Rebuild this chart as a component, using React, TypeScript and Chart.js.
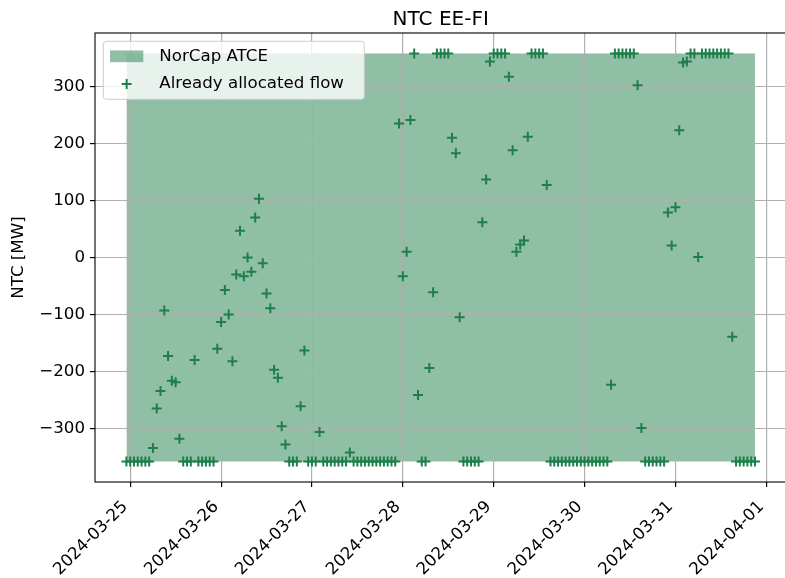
import { useEffect, useRef } from 'react';
import { Chart, registerables } from 'chart.js';

Chart.register(...registerables);

// ---------- data ----------
const TITLE = 'NTC EE-FI';
const Y_LABEL = 'NTC [MW]';
const SERIES_LABELS = ['NorCap ATCE', 'Already allocated flow'];
const FIRST_HOUR = '2024-03-24T23:00:00Z';
const DAY_TICKS = ['2024-03-25', '2024-03-26', '2024-03-27', '2024-03-28', '2024-03-29', '2024-03-30', '2024-03-31', '2024-04-01'];
const Y_TICKS = [-300, -200, -100, 0, 100, 200, 300];
const ATCE_UP = 358;
const ATCE_DOWN = -358;
// hourly already allocated flow (MW), starting at FIRST_HOUR
const FLOW = [
  -358, -358, -358, -358, -358, -358, -358,
  -334, -265, -234, -93, -173, -216, -219, -318,
  -358, -358, -358,
  -180,
  -358, -358, -358, -358, -358,
  -160, -113, -57, -100, -182, -30, 47, -33, 0, -25, 70, 103, -10, -63, -89, -197, -211, -296, -328,
  -358, -358, -358,
  -261, -163,
  -358, -358, -358,
  -306,
  -358, -358, -358, -358, -358, -358, -358,
  -342,
  -358, -358, -358, -358, -358, -358, -358, -358, -358, -358, -358, -358,
  235, -33, 10, 241, 358, -241,
  -358, -358,
  -194, -61,
  358, 358, 358, 358,
  210, 183, -105,
  -358, -358, -358, -358, -358,
  62, 137, 344,
  358, 358, 358, 358,
  317, 188, 10, 23, 30, 212,
  358, 358, 358, 358,
  127,
  -358, -358, -358, -358, -358, -358, -358, -358, -358, -358, -358, -358, -358, -358, -358, -358,
  -223,
  358, 358, 358, 358, 358, 358,
  302, -299,
  -358, -358, -358, -358, -358, -358,
  79, 21, 88, 223, 342, 344,
  358, 358,
  1,
  358, 358, 358, 358, 358, 358, 358, 358,
  -139,
  -358, -358, -358, -358, -358, -358,
];

// ---------- style ----------
const FONT = "'DejaVu Sans', sans-serif";
const FS = 16.67;
const MARKER = 'rgb(31,127,75)';
const FILL = 'rgba(31,127,75,0.5)';
const GRID = '#b0b0b0';

const fmtY = (v: number) => (v < 0 ? '\u2212' + Math.abs(v) : String(v));

export default function App() {
  const ref = useRef<HTMLCanvasElement>(null);

  useEffect(() => {
    const canvas = ref.current;
    if (!canvas) return;
    const HOUR = 3600000;
    const t0 = Date.parse(FIRST_HOUR);
    const pts = FLOW.map((v, i) => ({ x: t0 + i * HOUR, y: v }));
    const tLast = t0 + (FLOW.length - 1) * HOUR;
    const span = tLast - t0;
    const xMin = t0 - 0.05 * span;
    const xMax = tLast + 0.05 * span;
    const ySpan = ATCE_UP - ATCE_DOWN;
    const yMin = ATCE_DOWN - 0.05 * ySpan;
    const yMax = ATCE_UP + 0.05 * ySpan;
    const dayVals = DAY_TICKS.map((d) => Date.parse(d + 'T00:00:00Z'));

    const overlay = {
      id: 'overlay',
      afterDatasetDraw(chart: any, args: any) {
        if (args.index === 0) {
          chart.scales.x.drawGrid(chart.chartArea);
          chart.scales.y.drawGrid(chart.chartArea);
        }
      },
      afterDatasetsDraw(chart: any) {
        const { ctx, chartArea: a } = chart;
        ctx.save();
        ctx.strokeStyle = '#000';
        ctx.lineWidth = 1.1;
        ctx.strokeRect(a.left, a.top, a.right - a.left, a.bottom - a.top);
        ctx.restore();
      },
      afterDraw(chart: any) {
        const { ctx, chartArea: a } = chart;
        ctx.save();
        ctx.fillStyle = '#000';
        // title
        ctx.font = `20px ${FONT}`;
        ctx.textAlign = 'center';
        ctx.textBaseline = 'alphabetic';
        ctx.fillText(TITLE, (a.left + a.right) / 2, a.top - 8.3);
        // y label
        ctx.save();
        ctx.translate(19, (a.top + a.bottom) / 2);
        ctx.rotate(-Math.PI / 2);
        ctx.font = `${FS}px ${FONT}`;
        ctx.textBaseline = 'middle';
        ctx.fillText(Y_LABEL, 0, 0);
        ctx.restore();
        // legend
        const ds = chart.data.datasets;
        const lx = a.left + 8.3;
        const ly = a.top + 8.3;
        const lw = 261;
        const lh = 58;
        ctx.beginPath();
        ctx.roundRect(lx, ly, lw, lh, 3);
        ctx.fillStyle = 'rgba(255,255,255,0.8)';
        ctx.fill();
        ctx.strokeStyle = '#cccccc';
        ctx.lineWidth = 1;
        ctx.stroke();
        const hx = lx + 6.7;
        const hw = 33.3;
        const r1 = ly + 15;
        const r2 = ly + 42.7;
        ctx.fillStyle = ds[0].backgroundColor;
        ctx.fillRect(hx, r1 - 5.85, hw, 11.7);
        ctx.strokeStyle = ds[1].borderColor;
        ctx.lineWidth = 2;
        ctx.beginPath();
        ctx.moveTo(hx + hw / 2 - 5, r2);
        ctx.lineTo(hx + hw / 2 + 5, r2);
        ctx.moveTo(hx + hw / 2, r2 - 5);
        ctx.lineTo(hx + hw / 2, r2 + 5);
        ctx.stroke();
        ctx.fillStyle = '#000';
        ctx.font = `${FS}px ${FONT}`;
        ctx.textAlign = 'left';
        ctx.textBaseline = 'middle';
        ctx.fillText(ds[0].label, hx + hw + 16, r1);
        ctx.fillText(ds[1].label, hx + hw + 16, r2);
        ctx.restore();
      },
    };

    const chart = new Chart(canvas, {
      type: 'line',
      data: {
        datasets: [
          {
            type: 'line',
            label: SERIES_LABELS[0],
            data: [
              { x: t0, y: ATCE_UP },
              { x: tLast, y: ATCE_UP },
            ],
            fill: { value: ATCE_DOWN },
            backgroundColor: FILL,
            borderColor: 'transparent',
            borderWidth: 0,
            pointRadius: 0,
            order: 1,
          } as any,
          {
            type: 'scatter',
            label: SERIES_LABELS[1],
            data: pts,
            showLine: false,
            pointStyle: 'cross',
            pointRadius: 5,
            borderColor: MARKER,
            backgroundColor: MARKER,
            borderWidth: 2,
            order: 0,
          } as any,
        ],
      },
      options: {
        responsive: false,
        animation: false,
        devicePixelRatio: 1,
        events: [],
        layout: { padding: { left: 0, top: 33, right: 8.6, bottom: 0 } },
        plugins: {
          legend: { display: false },
          title: { display: false },
          tooltip: { enabled: false },
        },
        scales: {
          x: {
            type: 'linear',
            min: xMin,
            max: xMax,
            afterBuildTicks: (s: any) => {
              s.ticks = dayVals.map((v) => ({ value: v }));
            },
            afterFit: (s: any) => {
              s.height = 96;
            },
            ticks: {
              autoSkip: false,
              minRotation: 45,
              maxRotation: 45,
              padding: 10,
              labelOffset: -5,
              color: '#000',
              font: { family: FONT, size: FS },
              callback: (v: any) => new Date(Number(v)).toISOString().slice(0, 10),
            },
            grid: { color: GRID, lineWidth: 1.1, tickColor: '#000', tickLength: 5, tickWidth: 1.1 },
            border: { display: false },
          },
          y: {
            type: 'linear',
            min: yMin,
            max: yMax,
            afterBuildTicks: (s: any) => {
              s.ticks = Y_TICKS.map((v) => ({ value: v }));
            },
            afterFit: (s: any) => {
              s.width = 95;
            },
            ticks: {
              padding: 5,
              color: '#000',
              font: { family: FONT, size: FS },
              callback: (v: any) => fmtY(Number(v)),
            },
            grid: { color: GRID, lineWidth: 1.1, tickColor: '#000', tickLength: 5, tickWidth: 1.1 },
            border: { display: false },
          },
        },
      } as any,
      plugins: [overlay],
    });
    return () => chart.destroy();
  }, []);

  return (
    <div style={{ position: 'fixed', left: 0, top: 0, width: 785, height: 578, overflow: 'hidden', background: '#fff' }}>
      <canvas ref={ref} width={795} height={578} style={{ display: 'block', width: 795, height: 578 }} />
    </div>
  );
}
